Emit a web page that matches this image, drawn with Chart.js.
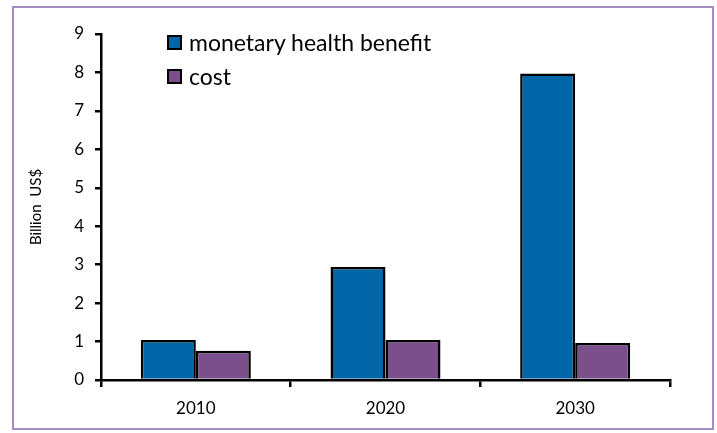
<!DOCTYPE html>
<html lang="en">
<head>
    <meta charset="utf-8">
    <title>Health benefit vs cost</title>
    <script src="https://cdn.jsdelivr.net/npm/chart.js"></script>
    <style>
        html, body { margin: 0; padding: 0; background: #fff; }
        #wrap { position: relative; width: 717px; height: 433px; }
        #frame {
            position: absolute; left: 12px; top: 6px; width: 702px; height: 424px;
            border: 2px solid #a58bc0; box-sizing: border-box; pointer-events: none;
        }
        #legend {
            position: absolute; left: 167px; top: 25px;
            font-family: Lato, "Open Sans", sans-serif; font-size: 23px; color: #000;
        }
        .item { display: flex; align-items: center; height: 34px; }
        .box { width: 11px; height: 11px; border: 2px solid #000; margin-right: 7px; }
    </style>
</head>
<body>
    <div id="wrap">
        <canvas id="chart" width="717" height="433"></canvas>
        <div id="frame"></div>
        <div id="legend"></div>
    </div>

    <script>
        const years = ['2010', '2020', '2030'];
        const benefit = [1.04, 2.94, 7.97];
        const cost = [0.76, 1.04, 0.96];
        const seriesNames = ['monetary health benefit', 'cost'];
        const seriesColors = ['#0066a8', '#7a4f8c'];

        const font = "Lato, 'Open Sans', sans-serif";

        const ctx = document.getElementById('chart').getContext('2d');
        const chart = new Chart(ctx, {
            type: 'bar',
            data: {
                labels: years,
                datasets: [benefit, cost].map((d, i) => ({
                    label: seriesNames[i],
                    data: d,
                    backgroundColor: seriesColors[i],
                    borderColor: '#000',
                    borderWidth: 2.5,
                    borderSkipped: 'bottom',
                    categoryPercentage: 0.58,
                    barPercentage: 1.0,
                })),
            },
            options: {
                responsive: false,
                animation: false,
                layout: { padding: { left: 20, right: 47, top: 34, bottom: 0 } },
                plugins: {
                    legend: { display: false },
                    tooltip: { enabled: false },
                },
                scales: {
                    y: {
                        min: 0,
                        max: 9,
                        ticks: { stepSize: 1, color: '#000', font: { family: font, size: 17 }, padding: 11 },
                        grid: { drawOnChartArea: false, drawTicks: true, tickLength: 6, color: '#000', lineWidth: 2.5 },
                        border: { color: '#000', width: 2.5 },
                        title: {
                            display: true,
                            text: 'Billion  US$',
                            color: '#000',
                            font: { family: font, size: 15 },
                            padding: { top: 7, bottom: 0 },
                        },
                        afterFit: (s) => { s.width = 81; },
                    },
                    x: {
                        ticks: { color: '#000', font: { family: font, size: 17 }, padding: 11 },
                        grid: { drawOnChartArea: false, drawTicks: true, tickLength: 7, color: '#000', lineWidth: 2.5, offset: true },
                        border: { color: '#000', width: 2.5 },
                        afterFit: (s) => { s.height = 53; },
                    },
                },
            },
        });

        // html legend, stacked in the plot area like the original
        const legend = document.getElementById('legend');
        chart.data.datasets.forEach((ds) => {
            const row = document.createElement('div');
            row.className = 'item';
            const box = document.createElement('span');
            box.className = 'box';
            box.style.background = ds.backgroundColor;
            const txt = document.createElement('span');
            txt.textContent = ds.label;
            row.appendChild(box);
            row.appendChild(txt);
            legend.appendChild(row);
        });
    </script>
</body>
</html>
